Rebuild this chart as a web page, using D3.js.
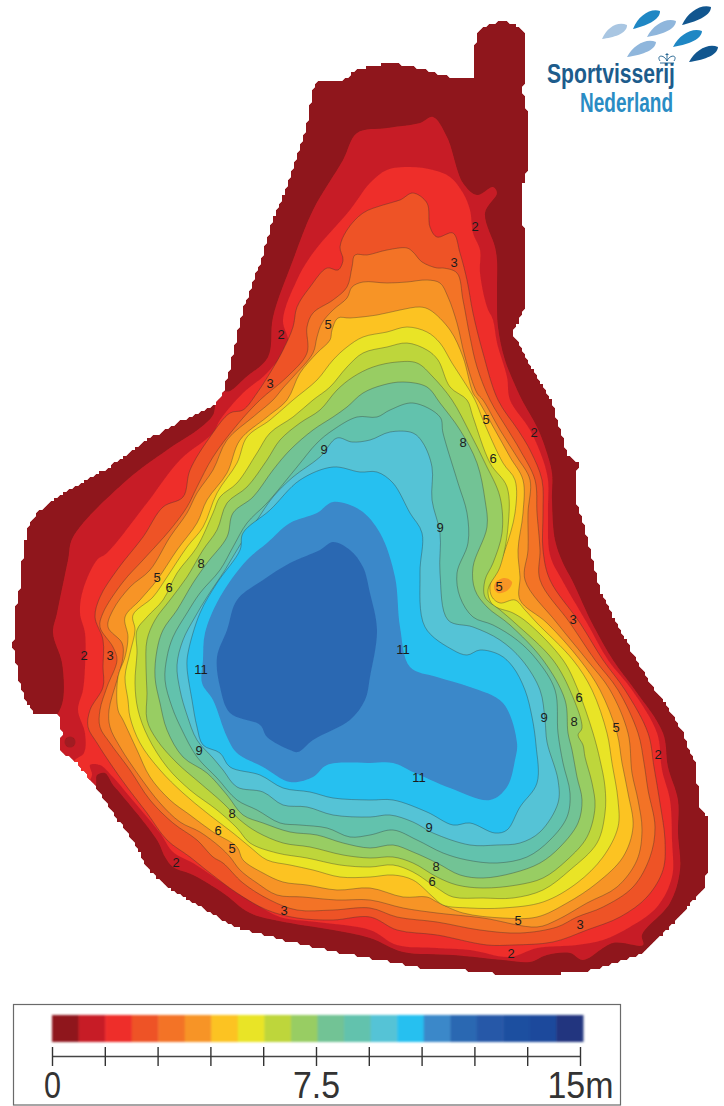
<!DOCTYPE html>
<html>
<head>
<meta charset="utf-8">
<style>
    html, body { margin: 0; padding: 0; background: #fff; }
    svg { display: block; }
    text { font-family: 'Liberation Sans', Arial, sans-serif; }
</style>
<script src="https://cdn.jsdelivr.net/npm/d3@7"></script>
</head>
<body>
<div id="chart"></div>
<script>
// depth bands, shallow to deep
const shore = [[473,78],[452,78],[433,72],[412,66],[387,63],[372,66],[357,70],[340,82],[317,80],[312,93],[308,120],[300,147],[288,183],[273,220],[260,263],[243,310],[233,353],[225,388],[215,405],[173,425],[143,442],[110,467],[83,482],[57,497],[37,513],[28,527],[23,553],[20,587],[15,613],[13,647],[20,683],[25,700],[35,715],[58,715],[62,733],[60,747],[62,753],[77,763],[100,793],[120,823],[140,853],[147,868],[167,887],[190,900],[233,927],[283,940],[340,953],[370,958],[397,963],[420,968],[463,970],[507,975],[580,973],[610,965],[643,953],[670,927],[703,890],[707,873],[707,817],[700,807],[695,763],[683,733],[670,710],[650,683],[620,630],[600,590],[587,537],[575,497],[578,463],[568,455],[560,430],[552,400],[533,370],[513,333],[525,307],[525,267],[522,187],[528,165],[528,120],[523,90],[526,63],[525,33],[515,24],[503,21],[488,24],[477,33],[473,57]];
const band1 = [[433,117],[420,123],[387,128],[357,133],[343,160],[313,210],[293,260],[273,317],[268,357],[245,378],[230,391],[222,392],[216,402],[213,415],[200,428],[167,450],[127,480],[73,537],[68,560],[57,613],[53,633],[62,663],[63,700],[57,715],[45,730],[50,770],[90,800],[96,785],[97,775],[105,773],[113,785],[120,793],[157,840],[165,857],[173,867],[193,875],[223,893],[250,913],[290,923],[333,930],[370,938],[403,952],[453,955],[503,960],[530,962],[547,955],[570,953],[583,960],[613,943],[643,945],[642,935],[670,903],[680,870],[678,833],[678,800],[668,767],[663,733],[635,690],[613,660],[592,623],[572,580],[563,563],[555,540],[552,500],[552,473],[545,447],[537,427],[522,400],[515,385],[505,360],[498,327],[497,293],[497,260],[495,247],[485,213],[497,193],[493,187],[477,195],[463,183],[447,137]];
const band2 = [[410,167],[387,170],[370,183],[350,210],[313,253],[297,280],[283,320],[288,343],[267,373],[243,393],[220,420],[213,433],[180,460],[147,503],[107,553],[97,560],[83,590],[80,613],[85,633],[85,667],[83,690],[78,710],[85,733],[84,753],[75,760],[70,770],[85,785],[92,775],[90,765],[100,765],[113,777],[130,797],[160,833],[173,852],[193,863],[223,883],[250,900],[280,917],[317,922],[370,930],[397,945],[437,948],[470,950],[510,957],[537,948],[577,945],[603,940],[630,927],[657,907],[672,877],[672,840],[670,800],[662,770],[657,733],[632,690],[608,660],[587,623],[562,580],[550,555],[548,513],[548,480],[543,460],[530,430],[510,400],[507,377],[497,343],[493,320],[487,307],[480,273],[480,250],[473,233],[470,210],[463,193],[450,177],[433,170]];
const band3 = [[413,193],[400,200],[383,205],[363,213],[347,230],[340,247],[343,260],[338,270],[327,268],[310,287],[297,307],[293,327],[283,350],[273,368],[257,393],[243,410],[230,413],[210,437],[190,470],[183,497],[163,507],[143,537],[117,570],[100,597],[95,617],[103,640],[103,667],[103,687],[90,710],[88,727],[97,743],[110,763],[127,787],[147,813],[167,840],[190,857],[210,873],[237,893],[267,910],[297,918],[333,920],[370,917],[397,930],[437,935],[487,945],[513,945],[553,942],[587,930],[620,917],[647,897],[663,870],[665,840],[660,803],[654,767],[648,733],[625,690],[603,660],[580,623],[550,580],[543,550],[543,513],[542,480],[530,450],[518,430],[498,400],[483,353],[473,313],[467,280],[460,253],[453,233],[437,237],[430,227],[427,203]];
const band4 = [[407,248],[387,250],[367,255],[355,255],[352,267],[347,287],[333,300],[313,313],[307,327],[307,353],[287,377],[260,400],[237,425],[213,457],[197,487],[187,507],[170,530],[143,560],[123,582],[103,613],[100,627],[113,647],[117,660],[107,687],[100,710],[100,727],[110,743],[130,770],[150,800],[173,823],[197,840],[213,857],[223,863],[243,883],[270,900],[297,910],[333,910],[370,908],[397,917],[437,922],[480,930],[520,933],[557,927],[577,917],[603,907],[633,887],[650,857],[655,827],[648,790],[644,763],[638,733],[618,690],[595,660],[570,623],[540,580],[540,550],[537,513],[535,480],[520,450],[508,430],[490,400],[477,367],[470,337],[463,300],[457,273],[443,268],[437,268],[422,262],[413,252]];
const band5 = [[427,280],[407,282],[387,283],[363,282],[352,287],[347,298],[333,310],[322,323],[317,337],[313,353],[293,377],[283,388],[273,400],[253,417],[227,440],[213,470],[197,493],[187,513],[170,537],[150,570],[130,587],[113,610],[108,627],[122,643],[123,657],[117,680],[109,710],[110,727],[120,747],[140,777],[160,803],[180,822],[200,832],[220,847],[230,857],[240,870],[257,883],[277,895],[303,897],[337,900],[370,900],[403,908],[437,913],[483,918],[537,927],[557,920],[587,903],[617,887],[637,860],[642,830],[638,800],[632,773],[628,733],[610,690],[587,660],[557,623],[525,580],[528,550],[528,513],[530,480],[517,457],[500,430],[483,400],[477,393],[465,357],[457,323],[448,297],[440,283]];
const band6 = [[420,307],[400,310],[377,315],[350,318],[338,318],[332,330],[330,340],[317,353],[300,373],[287,400],[267,417],[240,440],[227,473],[207,500],[197,523],[177,550],[157,580],[140,600],[125,617],[128,637],[125,657],[118,677],[118,710],[123,720],[137,750],[150,777],[170,800],[190,815],[213,832],[237,847],[243,860],[263,873],[283,882],[307,885],[337,890],[370,888],[403,897],[427,897],[437,902],[463,913],[503,918],[537,917],[567,903],[597,883],[623,857],[633,827],[628,793],[622,763],[617,733],[600,690],[580,660],[547,623],[520,600],[520,577],[518,550],[523,513],[523,480],[510,457],[495,430],[478,400],[473,393],[463,357],[450,330],[430,310]];
const band7 = [[407,327],[387,332],[363,337],[347,347],[333,360],[317,380],[293,400],[270,420],[247,437],[237,463],[217,493],[203,527],[187,547],[167,577],[153,597],[133,615],[135,630],[130,653],[125,677],[128,700],[130,717],[140,743],[160,770],[183,793],[207,813],[233,833],[250,847],[267,860],[290,865],[313,870],[340,877],[370,877],[393,875],[413,880],[433,897],[443,905],[470,908],[503,908],[543,902],[577,883],[603,857],[618,827],[618,800],[612,763],[607,733],[592,690],[573,660],[537,623],[525,610],[515,600],[500,603],[492,597],[490,585],[497,570],[505,550],[515,513],[515,480],[503,463],[483,420],[475,400],[463,380],[452,363],[440,343],[427,332]];
const band8 = [[407,343],[387,347],[363,353],[347,367],[330,387],[313,400],[293,417],[270,433],[257,453],[237,483],[220,497],[213,513],[197,547],[177,573],[163,600],[147,617],[137,630],[137,653],[135,683],[138,710],[148,737],[167,767],[190,790],[217,810],[237,828],[250,843],[277,853],[307,858],[340,865],[370,867],[393,865],[413,872],[437,888],[453,897],[483,898],[513,898],[543,890],[570,870],[597,843],[605,813],[605,787],[600,760],[593,733],[578,690],[563,660],[528,623],[513,613],[493,605],[488,590],[500,567],[508,527],[507,487],[490,463],[473,417],[467,400],[450,387],[438,360],[427,350]];
const band9 = [[397,362],[373,367],[353,377],[337,390],[320,410],[300,423],[280,440],[267,460],[247,487],[227,503],[217,530],[203,550],[187,577],[170,600],[155,620],[147,640],[146,667],[147,693],[147,720],[157,740],[177,763],[200,783],[223,803],[240,820],[257,832],[283,843],[310,847],[343,855],[370,858],[393,857],[413,863],[437,877],[457,885],[483,888],[517,885],[543,878],[567,860],[587,837],[595,807],[592,783],[585,757],[583,745],[578,735],[582,728],[572,695],[553,660],[515,623],[500,610],[485,597],[485,580],[493,563],[502,533],[500,497],[485,463],[470,433],[452,400],[433,377],[417,363]];
const band10 = [[403,382],[383,385],[363,393],[347,407],[333,417],[313,430],[290,450],[273,470],[253,497],[233,513],[227,537],[207,563],[193,583],[177,610],[163,630],[157,650],[155,677],[160,703],[167,730],[183,757],[207,773],[227,795],[243,815],[263,823],[290,832],[317,835],[343,843],[370,848],[393,845],[413,852],[437,863],[460,875],[483,878],[513,873],[540,863],[560,847],[578,823],[582,800],[577,777],[572,750],[568,733],[565,700],[543,660],[510,625],[487,607],[475,590],[473,567],[487,527],[485,500],[477,463],[460,430],[440,403],[427,387]];
const band11 = [[413,403],[390,410],[377,417],[357,417],[333,430],[317,443],[297,467],[267,503],[247,523],[233,547],[220,570],[200,593],[187,613],[173,637],[167,657],[165,680],[172,707],[182,730],[197,757],[217,778],[237,800],[257,810],[280,823],[300,825],[327,828],[350,837],[370,835],[393,830],[417,840],[443,853],[467,860],[497,863],[527,857],[550,840],[567,817],[570,793],[563,763],[558,733],[555,690],[537,660],[517,640],[493,625],[473,617],[460,597],[457,573],[468,543],[467,513],[458,483],[443,433],[440,417]];
const band12 = [[337,438],[320,457],[293,477],[273,497],[257,520],[240,545],[225,570],[207,597],[195,617],[183,640],[177,665],[180,690],[187,715],[197,740],[213,758],[223,770],[237,787],[263,792],[283,805],[307,807],[333,815],[370,817],[390,815],[413,822],[433,833],[470,845],[497,845],[520,843],[540,832],[558,803],[558,780],[547,742],[545,720],[540,690],[522,660],[500,640],[473,627],[448,620],[440,573],[440,533],[432,500],[432,467],[423,443],[413,433],[390,432],[370,440],[352,442]];
const band13 = [[360,472],[333,467],[300,480],[270,510],[243,533],[240,550],[217,583],[200,613],[188,653],[187,667],[192,700],[197,727],[203,745],[220,753],[230,767],[260,775],[283,788],[310,792],[333,798],[370,800],[393,800],[427,812],[453,825],[470,823],[495,833],[507,830],[520,807],[537,783],[536,745],[532,717],[525,690],[513,667],[500,655],[480,650],[467,655],[453,650],[425,627],[420,573],[422,533],[410,513],[393,483],[377,472]];
const band14 = [[333,502],[317,513],[290,523],[267,543],[247,560],[220,597],[205,633],[203,660],[202,683],[213,700],[227,737],[237,753],[263,767],[290,782],[313,777],[327,765],[370,763],[393,763],[413,772],[450,788],[490,800],[507,787],[515,760],[517,743],[503,703],[470,687],[437,677],[410,667],[400,627],[395,577],[380,533],[360,510]];
const band15 = [[333,542],[320,550],[290,563],[263,580],[237,600],[227,630],[217,657],[220,687],[230,713],[260,725],[267,737],[290,750],[298,752],[313,740],[350,720],[365,700],[370,677],[377,630],[370,593],[363,567],[350,550]];
const pocket = [[496,582],[505,578],[512,582],[508,590],[498,593],[494,588]];

const bands = [shore, band1, band2, band3, band4, band5, band6, band7, band8, band9, band10, band11, band12, band13, band14, band15];
const bandColors = ['#8f181b', '#c71f26', '#ee2e2c', '#ee5225', '#f37327', '#f79427', '#fcc322', '#e9e427', '#bed63a', '#98cd63', '#72c395', '#62c2ad', '#55c3d6', '#27c0f0', '#3a88c9', '#2c68b2'];

// labels sitting on the contour lines
const contourLabels = ['2', '3', '5', '2', '3', '5', '2', '8', '6', '9', '9', '8', '5', '6', '5', '3', '2', '3', '11', '11', '6', '9', '8', '5', '2', '9', '11', '8', '9', '6', '5', '2', '8', '6', '3', '5', '3', '2'];
const contourLabelX = [475, 454, 328, 281, 270, 486, 534, 463, 493, 324, 440, 201, 157, 169, 499, 573, 84, 110, 403, 201, 579, 544, 574, 616, 658, 199, 419, 232, 429, 218, 232, 176, 436, 432, 284, 518, 580, 511];
const contourLabelY = [226, 262, 324, 334, 383, 419, 432, 442, 458, 449, 527, 563, 577, 587, 586, 619, 655, 655, 649, 669, 697, 717, 721, 727, 754, 750, 777, 813, 827, 830, 848, 862, 866, 881, 910, 920, 924, 953];

// legend
const legendSteps = d3.range(20);
const legendColors = ['#8f181b', '#c71f26', '#ee2e2c', '#ee5225', '#f37327', '#f79427', '#fcc322', '#e9e427', '#bed63a', '#98cd63', '#72c395', '#62c2ad', '#55c3d6', '#27c0f0', '#3a88c9', '#2c68b2', '#2858a8', '#1f4fa0', '#1d4a9c', '#24367f'];
const legendTicks = [0, 1.5, 3, 4.5, 6, 7.5, 9, 10.5, 12, 13.5, 15];
const legendTickText = { 0: '0', 7.5: '7.5', 15: '15m' };
const legendTickWidth = { 0: 17, 7.5: 47, 15: 66 };

// logo fish: tail x/y, nose x/y
const fishTailX = [602, 633, 682, 647, 673, 627, 689];
const fishTailY = [39, 29, 25, 37, 47, 57, 62];
const fishNoseX = [627, 660, 711, 676, 702, 656, 718];
const fishNoseY = [25, 11, 7, 21, 31, 42, 47];
const fishColors = ['#a9c6e2', '#1f87c4', '#11568f', '#8fb6dc', '#1f87c4', '#8fb6dc', '#11568f'];

const svgWidth = 724;
const svgHeight = 1106;

const svg = d3
    .select('#chart')
    .append('svg')
    .attr('width', svgWidth)
    .attr('height', svgHeight);

const defs = svg.append('defs');

defs.append('filter')
    .attr('id', 'soft')
    .append('feGaussianBlur')
    .attr('stdDeviation', 0.6);

defs.append('filter')
    .attr('id', 'softer')
    .attr('x', '-5%')
    .attr('y', '-20%')
    .attr('width', '110%')
    .attr('height', '140%')
    .append('feGaussianBlur')
    .attr('stdDeviation', 1);

const x = d3.scaleLinear().domain([0, 724]).range([0, svgWidth]);
const y = d3.scaleLinear().domain([0, 1106]).range([0, svgHeight]);

// the grid the survey was gridded on gives the shore its blocky edge
const blocky = points => {
    const cell = 3;
    const out = [];
    points.forEach((p, i) => {
        const q = points[(i + 1) % points.length];
        const n = Math.max(1, Math.ceil(Math.hypot(q[0] - p[0], q[1] - p[1]) / cell));
        d3.range(n).forEach(k => {
            const px = p[0] + ((q[0] - p[0]) * k) / n;
            const py = p[1] + ((q[1] - p[1]) * k) / n;
            out.push([Math.round(px / cell) * cell, Math.round(py / cell) * cell]);
        });
    });
    return out;
};

const shoreLine = d3
    .line()
    .x(d => x(d[0]))
    .y(d => y(d[1]))
    .curve(d3.curveLinearClosed);

const contourLine = d3
    .line()
    .x(d => x(d[0]))
    .y(d => y(d[1]))
    .curve(d3.curveCatmullRomClosed.alpha(0.5));

const blockyShore = blocky(shore);

svg.append('clipPath')
    .attr('id', 'lake')
    .append('path')
    .attr('d', shoreLine(blockyShore));

const map = svg
    .append('g')
    .attr('filter', 'url(#soft)')
    .append('g')
    .attr('clip-path', 'url(#lake)');

map.selectAll('path.band')
    .data(bands)
    .enter()
    .append('path')
    .attr('class', 'band')
    .attr('d', (d, i) => (i === 0 ? shoreLine(blockyShore) : contourLine(d)))
    .attr('fill', (d, i) => bandColors[i])
    .attr('stroke', (d, i) => (i < 3 || i > 13 ? 'none' : '#2f2f2f'))
    .attr('stroke-opacity', 0.6)
    .attr('stroke-width', 0.6);

map.append('path')
    .attr('d', contourLine(pocket))
    .attr('fill', '#f79427');

map.append('circle')
    .attr('cx', x(70))
    .attr('cy', y(742))
    .attr('r', 5.5)
    .attr('fill', '#a11a20');

svg.selectAll('text.contour')
    .data(contourLabels)
    .enter()
    .append('text')
    .attr('class', 'contour')
    .attr('x', (d, i) => x(contourLabelX[i]))
    .attr('y', (d, i) => y(contourLabelY[i]))
    .attr('dy', '0.36em')
    .attr('text-anchor', 'middle')
    .attr('font-size', 13)
    .attr('fill', '#1c1c1c')
    .text(d => d);

// legend box
svg.append('rect')
    .attr('x', 13.5)
    .attr('y', 1004.5)
    .attr('width', 607)
    .attr('height', 100.5)
    .attr('fill', '#fff')
    .attr('stroke', '#6a6a6a')
    .attr('stroke-width', 1.2);

const legendBand = d3
    .scaleBand()
    .domain(legendSteps)
    .range([52, 583]);

svg.append('g')
    .attr('filter', 'url(#softer)')
    .selectAll('rect.step')
    .data(legendSteps)
    .enter()
    .append('rect')
    .attr('class', 'step')
    .attr('x', d => legendBand(d))
    .attr('y', 1015)
    .attr('width', legendBand.bandwidth() + 0.5)
    .attr('height', 27)
    .attr('fill', d => legendColors[d]);

const legendScale = d3.scaleLinear().domain([0, 15]).range([52, 580]);

const legendAxis = svg
    .append('g')
    .attr('transform', 'translate(0, 1056)')
    .call(
        d3
            .axisBottom(legendScale)
            .tickValues(legendTicks)
            .tickSize(10)
            .tickPadding(6)
            .tickSizeOuter(0)
            .tickFormat(d => legendTickText[d] || '')
    );

legendAxis.select('.domain').attr('stroke', '#444').attr('stroke-width', 1.4);
legendAxis
    .selectAll('.tick line')
    .attr('y1', -9)
    .attr('stroke', '#333')
    .attr('stroke-width', 1.4);
legendAxis
    .selectAll('.tick text')
    .attr('font-family', "'Liberation Sans', Arial, sans-serif")
    .attr('font-size', 37)
    .attr('fill', '#333')
    .filter(d => legendTickWidth[d])
    .attr('textLength', d => legendTickWidth[d])
    .attr('lengthAdjust', 'spacingAndGlyphs');

// logo
const fishPath = i => {
    const x0 = fishTailX[i];
    const y0 = fishTailY[i];
    const x1 = fishNoseX[i];
    const y1 = fishNoseY[i];
    const dx = x1 - x0;
    const dy = y1 - y0;
    const len = Math.hypot(dx, dy);
    const nx = (dy / len) * 8;
    const ny = (-dx / len) * 8;
    return `M${x0},${y0}C${x0 + dx * 0.35 + nx},${y0 + dy * 0.35 + ny} ${x0 + dx * 0.8 + nx},${y0 + dy * 0.8 + ny} ${x1},${y1}
        C${x0 + dx * 0.85 - nx},${y0 + dy * 0.85 - ny} ${x0 + dx * 0.35 - nx * 0.5},${y0 + dy * 0.35 - ny * 0.5} ${x0},${y0}Z`;
};

const logo = svg.append('g');

logo.selectAll('path.fish')
    .data(fishColors)
    .enter()
    .append('path')
    .attr('class', 'fish')
    .attr('d', (d, i) => fishPath(i))
    .attr('fill', d => d);

logo.append('path')
    .attr('d', 'M660,63h14M660,61C656,55 664,54 667,61C670,54 678,55 674,61M667,61V56M667,56v-3M665.5,54.5h3')
    .attr('fill', 'none')
    .attr('stroke', '#1b5e8c')
    .attr('stroke-width', 0.9);

logo.append('text')
    .attr('x', 547)
    .attr('y', 83)
    .attr('font-family', "'Open Sans', sans-serif")
    .attr('font-weight', 600)
    .attr('font-size', 28)
    .attr('textLength', 128)
    .attr('lengthAdjust', 'spacingAndGlyphs')
    .attr('fill', '#1d5c8c')
    .text('Sportvisserij');

logo.append('text')
    .attr('x', 580)
    .attr('y', 112)
    .attr('font-family', "'Open Sans', sans-serif")
    .attr('font-weight', 600)
    .attr('font-size', 28)
    .attr('textLength', 93)
    .attr('lengthAdjust', 'spacingAndGlyphs')
    .attr('fill', '#2a8cc4')
    .text('Nederland');
</script>
</body>
</html>
